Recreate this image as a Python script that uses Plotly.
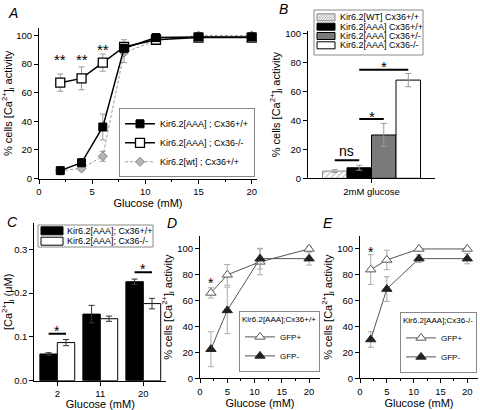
import plotly.graph_objects as go

# ---------------- data ----------------
# Panel A
A_glucose = [2, 4, 6, 8, 11, 15, 20]
A_aaa_wt = [5.5, 11, 36, 91, 98.5, 99, 99]
A_aaa_wt_err = [1, 3, 9, 3, 1.5, 1, 1]
A_aaa_ko = [67, 70, 81, 92, 97, 98.5, 98.5]
A_aaa_ko_err = [6, 8, 6, 5, 2, 1, 1]
A_wt = [5.5, 7, 15.5, 88, 96.5, 100, 100]
A_wt_err = [1, 1.5, 3.5, 7, 1.5, 1, 1]
A_names = ["Kir6.2[AAA] ; Cx36+/+", "Kir6.2[AAA] ; Cx36-/-", "Kir6.2[wt] ; Cx36+/+"]
A_sig_x = [2, 4, 6]
A_sig_y = [84, 84, 91]
A_sig_text = ["**", "**", "**"]

# Panel B
B_category = ["2mM glucose"]
B_names = ["Kir6.2[WT] Cx36+/+", "Kir6.2[AAA] Cx36+/+", "Kir6.2[AAA] Cx36+/-", "Kir6.2[AAA] Cx36-/-"]
B_values = [5.0, 7.3, 30, 68]
B_err = [1, 1.7, 8, 4.6]
B_sig_pairs = [(0, 1), (1, 2), (1, 3)]
B_sig_y = [12.5, 41, 75.2]
B_sig_text = ["ns", "*", "*"]

# Panel C
C_glucose = ["2", "11", "20"]
C_names = ["Kir6.2[AAA]; Cx36+/+", "Kir6.2[AAA]; Cx36-/-"]
C_wt = [0.061, 0.152, 0.226]
C_wt_err = [0.003, 0.02, 0.006]
C_ko = [0.087, 0.1415, 0.176]
C_ko_err = [0.007, 0.006, 0.012]
C_sig_index = [0, 2]
C_sig_y = [0.107, 0.2475]

# Panels D and E
DE_glucose = [2, 5, 11, 20]
DE_names = ["GFP+", "GFP-"]
D_title = "Kir6.2[AAA];Cx36+/+"
D_gfp_pos = [66, 80, 90, 100]
D_gfp_pos_err = [4, 8, 10, 2]
D_gfp_neg = [22.5, 52.5, 92.5, 92.5]
D_gfp_neg_err = [13.5, 18, 8, 5]
D_sig = [2, 76]
E_title = "Kir6.2[AAA];Cx36-/-"
E_gfp_pos = [84, 91.5, 100, 100]
E_gfp_pos_err = [11.5, 7.5, 1, 1]
E_gfp_neg = [30, 69, 92.5, 92.5]
E_gfp_neg_err = [6, 9.5, 3, 4]
E_sig = [2, 100]

# ---------------- helpers ----------------
W, H = 480, 410
FONT = "Liberation Sans, Arial, sans-serif"


def px(x):
    return x / W


def py(y):
    return 1 - y / H


def errs(arr, color="#999"):
    return dict(type="data", array=arr, color=color, thickness=1, width=3)


def axis(**kw):
    d = dict(showline=True, linecolor="black", linewidth=1, ticks="outside",
             ticklen=4, tickwidth=1, tickcolor="black", showgrid=False,
             zeroline=False, tickfont=dict(size=9.5, color="black"),
             automargin=False, mirror=False, fixedrange=True)
    d.update(kw)
    return d


YTITLE = "% cells [Ca<sup>2+</sup>]<sub>i</sub> activity"
TFONT = dict(size=11, color="black")

fig = go.Figure()

# ---------------- Panel A ----------------
fig.add_trace(go.Scatter(
    x=A_glucose, y=A_wt, name=A_names[2], mode="lines+markers", legendrank=3,
    line=dict(color="#999", width=1, dash="3px,2px"),
    marker=dict(symbol="diamond", size=7, color="#b4b4b4", line=dict(color="#888", width=1)),
    error_y=errs(A_wt_err), xaxis="x", yaxis="y", legend="legend"))
fig.add_trace(go.Scatter(
    x=A_glucose, y=A_aaa_ko, name=A_names[1], mode="lines+markers", legendrank=2,
    line=dict(color="black", width=1.5),
    marker=dict(symbol="square", size=9, color="white", line=dict(color="black", width=1.3)),
    error_y=errs(A_aaa_ko_err), xaxis="x", yaxis="y", legend="legend"))
fig.add_trace(go.Scatter(
    x=A_glucose, y=A_aaa_wt, name=A_names[0], mode="lines+markers", legendrank=1,
    line=dict(color="black", width=1.5),
    marker=dict(symbol="square", size=8, color="black", line=dict(color="black", width=1)),
    error_y=errs(A_aaa_wt_err), xaxis="x", yaxis="y", legend="legend"))

# ---------------- Panel B ----------------
B_gw = 0.772
B_bw = B_gw / len(B_values)
B_styles = [
    dict(color="white", line=dict(color="#888", width=1),
         pattern=dict(shape="/", fgcolor="#888", bgcolor="white", size=4, solidity=0.35)),
    dict(color="black", line=dict(color="black", width=1)),
    dict(color="#7a7a7a", line=dict(color="black", width=1)),
    dict(color="white", line=dict(color="black", width=1)),
]
for i, (nm, v, e) in enumerate(zip(B_names, B_values, B_err)):
    fig.add_trace(go.Bar(
        x=B_category, y=[v], name=nm, width=B_bw, offset=-B_gw / 2 + i * B_bw,
        marker=B_styles[i], error_y=errs([e]), xaxis="x2", yaxis="y2", showlegend=False))


def b_center(i):
    return -B_gw / 2 + (i + 0.5) * B_bw


# ---------------- Panel C ----------------
C_gw = 0.81
C_bw = C_gw / 2
fig.add_trace(go.Bar(
    x=C_glucose, y=C_wt, name=C_names[0], width=C_bw, offset=-C_bw,
    marker=dict(color="black", line=dict(color="black", width=1)),
    error_y=errs(C_wt_err, "#333"), xaxis="x3", yaxis="y3", showlegend=False))
fig.add_trace(go.Bar(
    x=C_glucose, y=C_ko, name=C_names[1], width=C_bw, offset=0,
    marker=dict(color="white", line=dict(color="black", width=1)),
    error_y=errs(C_ko_err, "#333"), xaxis="x3", yaxis="y3", showlegend=False))

# ---------------- Panels D, E ----------------
for pos, pos_e, neg, neg_e, xa, ya, lg in [
        (D_gfp_pos, D_gfp_pos_err, D_gfp_neg, D_gfp_neg_err, "x4", "y4", "legend2"),
        (E_gfp_pos, E_gfp_pos_err, E_gfp_neg, E_gfp_neg_err, "x5", "y5", "legend3")]:
    fig.add_trace(go.Scatter(
        x=DE_glucose, y=pos, name=DE_names[0], mode="lines+markers",
        line=dict(color="#555", width=1),
        marker=dict(symbol="triangle-up", size=9, color="white", line=dict(color="#555", width=1)),
        error_y=errs(pos_e, "#aaa"), xaxis=xa, yaxis=ya, legend=lg))
    fig.add_trace(go.Scatter(
        x=DE_glucose, y=neg, name=DE_names[1], mode="lines+markers",
        line=dict(color="#555", width=1),
        marker=dict(symbol="triangle-up", size=9, color="#222", line=dict(color="#222", width=1)),
        error_y=errs(neg_e, "#aaa"), xaxis=xa, yaxis=ya, legend=lg))

# ---------------- annotations & shapes ----------------
ann = []
shapes = []

# panel letters
for letter, (lx, ly) in zip("ABCDE", [(13, 13), (283, 9), (12, 222), (172, 223), (328, 223)]):
    ann.append(dict(text="<i>%s</i>" % letter, x=px(lx), y=py(ly), xref="paper", yref="paper",
                    showarrow=False, font=dict(size=14, color="black"), xanchor="center", yanchor="middle"))

# A stars
for sx, sy, st in zip(A_sig_x, A_sig_y, A_sig_text):
    ann.append(dict(text=st, x=sx, y=sy, xref="x", yref="y", showarrow=False,
                    font=dict(size=15, color="black"), yanchor="middle", yshift=-1))

# B significance
for (i, j), sy, st in zip(B_sig_pairs, B_sig_y, B_sig_text):
    shapes.append(dict(type="line", xref="x2", yref="y2", x0=b_center(i), x1=b_center(j),
                       y0=sy, y1=sy, line=dict(color="black", width=2)))
    if st == "ns":
        ann.append(dict(text=st, x=(b_center(i) + b_center(j)) / 2, y=sy, xref="x2", yref="y2",
                        showarrow=False, font=dict(size=14, color="black"), yanchor="bottom", yshift=-1))
    else:
        ann.append(dict(text=st, x=(b_center(i) + b_center(j)) / 2, y=sy, xref="x2", yref="y2",
                        showarrow=False, font=dict(size=15, color="black"), yanchor="middle", yshift=3))

# C significance
for ci, sy in zip(C_sig_index, C_sig_y):
    shapes.append(dict(type="line", xref="x3", yref="y3", x0=ci - C_bw / 2, x1=ci + C_bw / 2,
                       y0=sy, y1=sy, line=dict(color="black", width=2)))
    ann.append(dict(text="*", x=ci, y=sy, xref="x3", yref="y3", showarrow=False,
                    font=dict(size=14, color="black"), yanchor="middle", yshift=3))

# D / E stars
for (sx, sy), xa, ya in [(D_sig, "x4", "y4"), (E_sig, "x5", "y5")]:
    ann.append(dict(text="*", x=sx, y=sy, xref=xa, yref=ya, showarrow=False,
                    font=dict(size=14, color="black"), yanchor="middle", yshift=-3))

# ---- compact legend for B (drawn) ----
shapes.append(dict(type="rect", xref="paper", yref="paper", x0=px(314), x1=px(423),
                   y0=py(55), y1=py(10), line=dict(color="#888", width=1), fillcolor="white", layer="above"))
B_rows = [17.3, 26.7, 36.0, 45.3]
for k, (nm, ry) in enumerate(zip(B_names, B_rows)):
    x0, x1, y0, y1 = 317, 335, ry - 3.5, ry + 3.5
    st = B_styles[k]
    shapes.append(dict(type="rect", xref="paper", yref="paper", x0=px(x0), x1=px(x1),
                       y0=py(y1), y1=py(y0), fillcolor=st["color"],
                       line=dict(color=st["line"]["color"], width=1), layer="above"))
    if k == 0:
        hgt = y1 - y0
        segs = []
        t = x0 - hgt
        while t < x1:
            sx0, sy0 = (t, y1) if t >= x0 else (x0, y1 - (x0 - t))
            ex, ey = (t + hgt, y0) if t + hgt <= x1 else (x1, y1 - (x1 - t))
            segs.append("M%.5f,%.5f L%.5f,%.5f" % (px(sx0), py(sy0), px(ex), py(ey)))
            t += 2.5
        shapes.append(dict(type="path", xref="paper", yref="paper", path=" ".join(segs),
                           line=dict(color="#888", width=0.8), layer="above"))
    ann.append(dict(text=nm, x=px(337.5), y=py(ry), xref="paper", yref="paper", showarrow=False,
                    xanchor="left", yanchor="middle", font=dict(size=9, color="black")))

# ---- compact legend for C (drawn) ----
shapes.append(dict(type="rect", xref="paper", yref="paper", x0=px(38), x1=px(153),
                   y0=py(247), y1=py(225), line=dict(color="#888", width=1), fillcolor="white", layer="above"))
for k, (nm, ry, fc) in enumerate(zip(C_names, [230.8, 241.2], ["black", "white"])):
    shapes.append(dict(type="rect", xref="paper", yref="paper", x0=px(41), x1=px(63),
                       y0=py(ry + 4), y1=py(ry - 4), fillcolor=fc,
                       line=dict(color="black", width=1), layer="above"))
    ann.append(dict(text=nm, x=px(65), y=py(ry), xref="paper", yref="paper", showarrow=False,
                    xanchor="left", yanchor="middle", font=dict(size=9, color="black")))

# ---------------- layout ----------------
minor_x = dict(dtick=2.5, ticklen=2, tickcolor="black", ticks="outside")
legend_common = dict(bordercolor="#888", borderwidth=1, bgcolor="white",
                     tracegroupgap=0, itemwidth=30)

fig.update_layout(
    width=W, height=H, margin=dict(l=0, r=0, t=0, b=0),
    paper_bgcolor="white", plot_bgcolor="white",
    font=dict(family=FONT, color="black"),
    barmode="overlay",
    xaxis=axis(domain=[px(39), px(257)], range=[0, 20.5], tickvals=[0, 5, 10, 15, 20],
               minor=minor_x, title=dict(text="Glucose (mM)", font=TFONT, standoff=2), anchor="y"),
    yaxis=axis(domain=[py(178.5), py(28.3)], range=[0, 105], tickvals=[0, 20, 40, 60, 80, 100],
               title=dict(text=YTITLE, font=TFONT, standoff=3), anchor="x"),
    xaxis2=axis(domain=[px(308), px(435)], range=[-0.5, 0.5], type="category",
                anchor="y2"),
    yaxis2=axis(domain=[py(178.3), py(31)], range=[0, 102], tickvals=[0, 20, 40, 60, 80, 100],
                title=dict(text=YTITLE, font=TFONT, standoff=2), anchor="x2"),
    xaxis3=axis(domain=[px(34.3), px(166.3)], range=[-0.535, 2.535], type="category",
                categoryorder="array", categoryarray=C_glucose,
                title=dict(text="Glucose (mM)", font=TFONT, standoff=1), anchor="y3"),
    yaxis3=axis(domain=[py(380.7), py(223)], range=[0, 0.36], tickvals=[0, 0.1, 0.2, 0.3],
                tickformat=".1f",
                title=dict(text="[Ca<sup>2+</sup>]<sub>i</sub> (\u03bcM)", font=TFONT, standoff=2),
                anchor="x3"),
    xaxis4=axis(domain=[px(200), px(320)], range=[0, 22], tickvals=[0, 5, 10, 15, 20],
                minor=minor_x, title=dict(text="Glucose (mM)", font=TFONT, standoff=1), anchor="y4"),
    yaxis4=axis(domain=[py(378.3), py(236)], range=[0, 110], tickvals=[0, 20, 40, 60, 80, 100],
                title=dict(text=YTITLE, font=TFONT, standoff=2), anchor="x4"),
    xaxis5=axis(domain=[px(360), px(478)], range=[0, 22], tickvals=[0, 5, 10, 15, 20],
                minor=minor_x, title=dict(text="Glucose (mM)", font=TFONT, standoff=1), anchor="y5"),
    yaxis5=axis(domain=[py(378.3), py(236)], range=[0, 110], tickvals=[0, 20, 40, 60, 80, 100],
                title=dict(text=YTITLE, font=TFONT, standoff=2), anchor="x5"),
    legend=dict(x=px(255), y=py(177.3), xanchor="right", yanchor="bottom",
                font=dict(size=9, color="black"), **legend_common),
    legend2=dict(x=px(320), y=py(372), xanchor="right", yanchor="bottom",
                 font=dict(size=8, color="black"),
                 title=dict(text=D_title, font=dict(size=8, color="black")), **legend_common),
    legend3=dict(x=px(477), y=py(373), xanchor="right", yanchor="bottom",
                 font=dict(size=8, color="black"),
                 title=dict(text=E_title, font=dict(size=8, color="black")), **legend_common),
    annotations=ann, shapes=shapes,
)

fig.write_html("out.html", config={"displayModeBar": False},
               post_script="document.body.style.margin='0px';")
